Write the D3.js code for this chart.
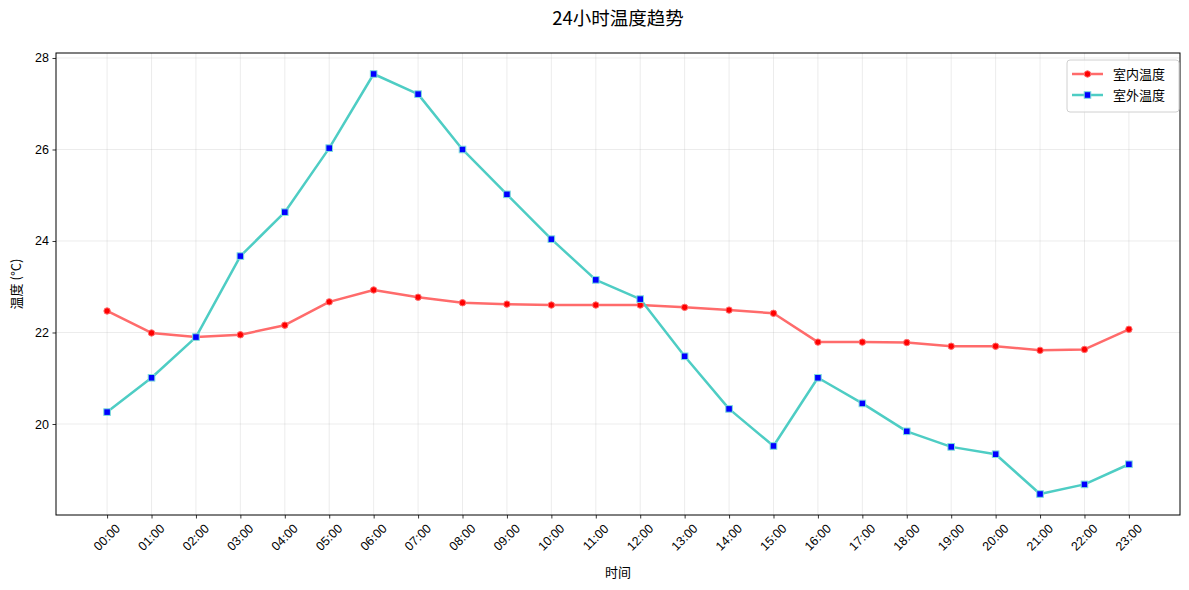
<!DOCTYPE html>
<html>
<head>
<meta charset="utf-8">
<script src="https://cdn.jsdelivr.net/npm/d3@7"></script>
<style>
  body { margin: 0; background: #fff; }
  svg { display: block; font-family: "Noto Sans CJK SC", "Noto Sans", sans-serif; }
</style>
</head>
<body>
<div id="chart"></div>
<script>
// hours on the x axis
const hours = ['00:00', '01:00', '02:00', '03:00', '04:00', '05:00', '06:00', '07:00',
               '08:00', '09:00', '10:00', '11:00', '12:00', '13:00', '14:00', '15:00',
               '16:00', '17:00', '18:00', '19:00', '20:00', '21:00', '22:00', '23:00'];

// indoor temperature
const indoor = [22.47, 21.99, 21.90, 21.95, 22.16, 22.67, 22.93, 22.77,
                22.65, 22.62, 22.60, 22.60, 22.60, 22.55, 22.49, 22.42,
                21.79, 21.79, 21.78, 21.70, 21.70, 21.61, 21.63, 22.07];

// outdoor temperature
const outdoor = [20.26, 21.01, 21.90, 23.67, 24.63, 26.03, 27.65, 27.21,
                 26.00, 25.02, 24.04, 23.15, 22.73, 21.48, 20.33, 19.52,
                 21.01, 20.45, 19.84, 19.50, 19.34, 18.47, 18.68, 19.12];

const yTicks = [20, 22, 24, 26, 28];

const W = 1189, H = 590;
const margin = { top: 53, right: 9, bottom: 75, left: 56 };
const innerW = W - margin.left - margin.right,
      innerH = H - margin.top - margin.bottom;

const svg = d3.select('#chart')
    .append('svg')
    .attr('width', W)
    .attr('height', H);

const g = svg.append('g')
    .attr('transform', `translate(${margin.left},${margin.top})`);

// matplotlib style 5% padding on both axes
const n = hours.length;
const x = d3.scaleLinear()
    .domain([-0.05 * (n - 1), (n - 1) * 1.05])
    .range([0, innerW]);

const allVals = indoor.concat(outdoor);
const yMin = d3.min(allVals), yMax = d3.max(allVals);
const pad = (yMax - yMin) * 0.05;
const y = d3.scaleLinear()
    .domain([yMin - pad, yMax + pad])
    .range([innerH, 0]);

// grid
g.append('g')
    .selectAll('line.vgrid')
    .data(hours)
    .enter()
    .append('line')
    .attr('x1', (d, i) => x(i))
    .attr('x2', (d, i) => x(i))
    .attr('y1', 0)
    .attr('y2', innerH)
    .attr('stroke', '#b0b0b0')
    .attr('stroke-opacity', 0.3)
    .attr('stroke-width', 0.8);

g.append('g')
    .selectAll('line.hgrid')
    .data(yTicks)
    .enter()
    .append('line')
    .attr('x1', 0)
    .attr('x2', innerW)
    .attr('y1', d => y(d))
    .attr('y2', d => y(d))
    .attr('stroke', '#b0b0b0')
    .attr('stroke-opacity', 0.3)
    .attr('stroke-width', 0.8);

// axes
const xAxis = g.append('g')
    .attr('transform', `translate(0,${innerH})`)
    .call(d3.axisBottom(x)
        .tickValues(d3.range(n))
        .tickFormat(i => hours[i])
        .tickSize(3.5)
        .tickPadding(3));

xAxis.selectAll('text')
    .attr('font-size', 12.5)
    .attr('fill', '#000')
    .attr('text-anchor', 'middle')
    .attr('dy', null)
    .attr('y', 0)
    .attr('transform', 'translate(0,23) rotate(-45)')
    .attr('dominant-baseline', 'middle');

const yAxis = g.append('g')
    .call(d3.axisLeft(y)
        .tickValues(yTicks)
        .tickSize(3.5)
        .tickPadding(3.5));

yAxis.selectAll('text')
    .attr('font-size', 12.5)
    .attr('fill', '#000');

[xAxis, yAxis].forEach(a => {
    a.select('.domain').remove();
    a.selectAll('.tick line').attr('stroke', '#000').attr('stroke-width', 0.8);
});

// frame
g.append('rect')
    .attr('width', innerW)
    .attr('height', innerH)
    .attr('fill', 'none')
    .attr('stroke', '#000')
    .attr('stroke-width', 1);

// lines
const line = d3.line()
    .x((d, i) => x(i))
    .y(d => y(d));

g.append('path')
    .datum(indoor)
    .attr('d', line)
    .attr('fill', 'none')
    .attr('stroke', '#FF6B6B')
    .attr('stroke-width', 2.5)
    .attr('stroke-linejoin', 'round');

g.append('path')
    .datum(outdoor)
    .attr('d', line)
    .attr('fill', 'none')
    .attr('stroke', '#4ECDC4')
    .attr('stroke-width', 2.5)
    .attr('stroke-linejoin', 'round');

// markers
g.selectAll('circle.indoor')
    .data(indoor)
    .enter()
    .append('circle')
    .attr('class', 'indoor')
    .attr('cx', (d, i) => x(i))
    .attr('cy', d => y(d))
    .attr('r', 3.2)
    .attr('fill', '#ff0000')
    .attr('stroke', '#FF6B6B')
    .attr('stroke-width', 1);

g.selectAll('rect.outdoor')
    .data(outdoor)
    .enter()
    .append('rect')
    .attr('class', 'outdoor')
    .attr('x', (d, i) => x(i) - 3.3)
    .attr('y', d => y(d) - 3.3)
    .attr('width', 6.6)
    .attr('height', 6.6)
    .attr('fill', '#0000ff')
    .attr('stroke', '#7fe0da')
    .attr('stroke-width', 1);

// titles
svg.append('text')
    .attr('x', margin.left + innerW / 2)
    .attr('y', 25)
    .attr('text-anchor', 'middle')
    .attr('font-size', 18.5)
    .text('24小时温度趋势');

svg.append('text')
    .attr('x', margin.left + innerW / 2)
    .attr('y', 577)
    .attr('text-anchor', 'middle')
    .attr('font-size', 13)
    .text('时间');

svg.append('text')
    .attr('transform', `translate(21,${margin.top + innerH / 2}) rotate(-90)`)
    .attr('text-anchor', 'middle')
    .attr('font-size', 13)
    .text('温度 (°C)');

// legend
const legend = svg.append('g')
    .attr('transform', 'translate(1067,60)');

legend.append('rect')
    .attr('width', 112)
    .attr('height', 52)
    .attr('rx', 3)
    .attr('fill', '#fff')
    .attr('fill-opacity', 0.8)
    .attr('stroke', '#d0d0d0');

const legendItems = [
    { name: '室内温度', color: '#FF6B6B', shape: 'circle' },
    { name: '室外温度', color: '#4ECDC4', shape: 'square' }
];

legendItems.forEach((item, i) => {
    const row = legend.append('g')
        .attr('transform', `translate(0,${14 + i * 21})`);
    row.append('line')
        .attr('x1', 5).attr('x2', 36)
        .attr('stroke', item.color)
        .attr('stroke-width', 2.5);
    if (item.shape === 'circle') {
        row.append('circle')
            .attr('cx', 20.5).attr('r', 3.2)
            .attr('fill', '#ff0000')
            .attr('stroke', item.color);
    } else {
        row.append('rect')
            .attr('x', 17.2).attr('y', -3.3)
            .attr('width', 6.6).attr('height', 6.6)
            .attr('fill', '#0000ff')
            .attr('stroke', '#7fe0da');
    }
    row.append('text')
        .attr('x', 46)
        .attr('y', 0)
        .attr('dy', '0.35em')
        .attr('font-size', 13)
        .text(item.name);
});
</script>
</body>
</html>
